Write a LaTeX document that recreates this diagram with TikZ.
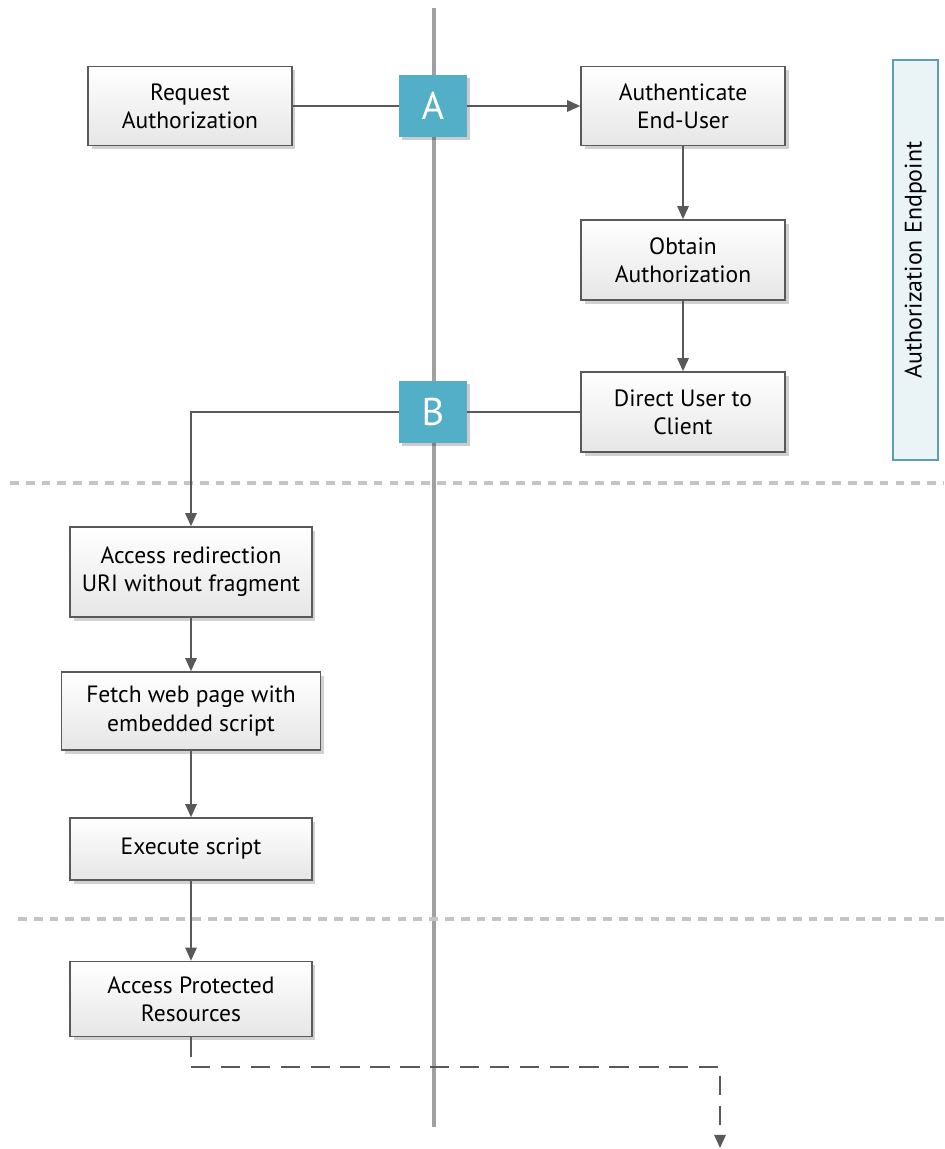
\documentclass[tikz,border=0pt]{standalone}
\usepackage{fontspec}
\setmainfont{PT Sans}
\usetikzlibrary{arrows.meta,shadows,positioning}

\definecolor{boxline}{HTML}{5A5A5A}
\definecolor{boxbot}{HTML}{E6E6E6}
\definecolor{flowline}{HTML}{595959}
\definecolor{lane}{HTML}{A0A0A0}
\definecolor{sep}{HTML}{C4C4C4}
\definecolor{marker}{HTML}{52AFC7}
\definecolor{panelfill}{HTML}{EAF4F7}
\definecolor{panelline}{HTML}{5A9FB2}

\tikzset{
  stepbox/.style={draw=boxline, line width=0.9pt, top color=white, bottom color=boxbot,
    align=center, font=\fontsize{13.4}{16}\selectfont, inner sep=0pt,
    drop shadow={shadow xshift=2pt, shadow yshift=-2pt, fill=black, opacity=0.18}},
  letterbox/.style={fill=marker, text=white, minimum width=1.36cm, minimum height=1.24cm,
    font=\fontsize{22}{24}\selectfont, inner sep=0pt,
    drop shadow={shadow xshift=1.5pt, shadow yshift=-1.5pt, fill=black, opacity=0.2}},
  flow/.style={draw=flowline, line width=1.1pt},
  arr/.style={flow, -{Triangle[length=7.5pt, width=6.5pt]}},
}

\begin{document}
\begin{tikzpicture}[x=0.02cm, y=-0.02cm]
  \useasboundingbox (0,0) rectangle (944,1149);

  % lanes
  \draw[lane, line width=2pt] (434,8) -- (434,1127);
  \draw[sep, line width=2pt, dash pattern=on 5pt off 4pt] (10,483) -- (944,483);
  \draw[sep, line width=2pt, dash pattern=on 5pt off 4pt] (18,919) -- (944,919);

  \node[draw=panelline, fill=panelfill, line width=0.9pt, minimum width=0.9cm, minimum height=8cm]
    (endpoint) at (915.5,260) {};
  \node[rotate=90, font=\fontsize{13.6}{16}\selectfont] (endpointlbl) at (endpoint.center) {Authorization Endpoint};

  \node[stepbox, minimum width=4.08cm, minimum height=1.58cm] (request) at (190,106) {Request\\Authorization};
  \node[letterbox] (A) at (433,106) {A};
  \node[stepbox, minimum width=4.08cm, minimum height=1.58cm] (authn) at (683,106) {Authenticate\\End-User};
  \node[stepbox, minimum width=4.08cm, minimum height=1.6cm] (obtain) at (683,260) {Obtain\\Authorization};
  \node[stepbox, minimum width=4.08cm, minimum height=1.6cm] (direct) at (683,412) {Direct User to\\Client};
  \node[letterbox] (B) at (433,412) {B};

  \node[stepbox, minimum width=4.84cm, minimum height=1.8cm] (redirect) at (191,572) {Access redirection\\URI without fragment};
  \node[stepbox, minimum width=5.18cm, minimum height=1.56cm] (fetch) at (191,711) {Fetch web page with\\embedded script};
  \node[stepbox, minimum width=4.84cm, minimum height=1.24cm] (execute) at (191,849) {Execute script};
  \node[stepbox, minimum width=4.84cm, minimum height=1.5cm] (protected) at (191,999) {Access Protected\\Resources};

  \coordinate (bend) at (191,412);
  \coordinate (out) at (720,1148);

  \draw[flow] (request) -- (A);
  \draw[arr] (A) -- (authn);
  \draw[arr] (authn) -- (obtain);
  \draw[arr] (obtain) -- (direct);
  \draw[flow] (direct) -- (B);
  \draw[arr] (B) -- (bend) -- (redirect);
  \draw[arr] (redirect) -- (fetch);
  \draw[arr] (fetch) -- (execute);
  \draw[arr] (execute) -- (protected);
  \draw[arr, dash pattern=on 11pt off 6pt] (protected) |- (720,1067) -- (out);
\end{tikzpicture}
\end{document}
